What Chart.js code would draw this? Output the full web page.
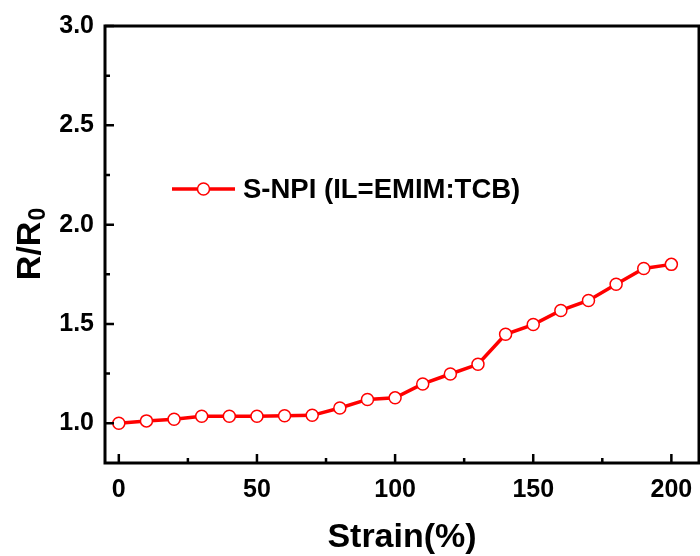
<!DOCTYPE html>
<html lang="en">
<head>
    <meta charset="UTF-8">
    <title>R/R0 vs Strain</title>
    <script src="https://cdn.jsdelivr.net/npm/chart.js"></script>
    <style>
        html, body { margin: 0; padding: 0; background: #fff; overflow: hidden; }
        #wrap { width: 700px; height: 556px; position: relative; }
    </style>
</head>
<body>
    <div id="wrap"><canvas id="chart"></canvas></div>

    <script>
        // data
        const strain = [0, 10, 20, 30, 40, 50, 60, 70, 80, 90, 100, 110, 120, 130, 140, 150, 160, 170, 180, 190, 200];
        const ratio = [1.00, 1.012, 1.02, 1.035, 1.035, 1.035, 1.038, 1.04, 1.077, 1.12, 1.128, 1.198, 1.248, 1.297, 1.448, 1.497, 1.568, 1.618, 1.70, 1.779, 1.80];
        const seriesLabel = 'S-NPI (IL=EMIM:TCB)';
        const xTicks = [0, 50, 100, 150, 200];
        const xMinor = [25, 75, 125, 175];
        const yTicks = [1.0, 1.5, 2.0, 2.5, 3.0];
        const yMinor = [1.25, 1.75, 2.25, 2.75];

        const FONT = '"Liberation Sans", Arial, sans-serif';
        const RED = '#ff0000';

        // frame, inward ticks, axis titles and legend
        const decor = {
            id: 'decor',
            afterDraw(chart) {
                const ctx = chart.ctx;
                const a = chart.chartArea;
                const xs = chart.scales.x, ys = chart.scales.y;
                ctx.save();
                ctx.strokeStyle = '#000';
                ctx.lineWidth = 3;
                ctx.strokeRect(a.left, a.top, a.right - a.left, a.bottom - a.top);

                ctx.lineWidth = 2.5;
                ctx.beginPath();
                xTicks.forEach(v => { const p = xs.getPixelForValue(v); ctx.moveTo(p, a.bottom); ctx.lineTo(p, a.bottom - 9); });
                xMinor.forEach(v => { const p = xs.getPixelForValue(v); ctx.moveTo(p, a.bottom); ctx.lineTo(p, a.bottom - 5); });
                yTicks.forEach(v => { const p = ys.getPixelForValue(v); ctx.moveTo(a.left, p); ctx.lineTo(a.left + 9, p); });
                yMinor.forEach(v => { const p = ys.getPixelForValue(v); ctx.moveTo(a.left, p); ctx.lineTo(a.left + 5, p); });
                ctx.stroke();

                // x title
                ctx.fillStyle = '#000';
                ctx.font = 'bold 34px ' + FONT;
                ctx.textAlign = 'center';
                ctx.textBaseline = 'alphabetic';
                ctx.fillText('Strain(%)', (a.left + a.right) / 2, 547);

                // y title with subscript
                ctx.save();
                ctx.translate(40, (a.top + a.bottom) / 2);
                ctx.rotate(-Math.PI / 2);
                ctx.font = 'bold 34px ' + FONT;
                const main = 'R/R';
                const wMain = ctx.measureText(main).width;
                ctx.font = 'bold 23px ' + FONT;
                const wSub = ctx.measureText('0').width;
                const x0 = -(wMain + wSub) / 2;
                ctx.textAlign = 'left';
                ctx.font = 'bold 34px ' + FONT;
                ctx.fillText(main, x0, 0);
                ctx.font = 'bold 23px ' + FONT;
                ctx.fillText('0', x0 + wMain + 1, 5);
                ctx.restore();

                // legend
                const ly = 189;
                ctx.strokeStyle = RED;
                ctx.lineWidth = 3.5;
                ctx.beginPath();
                ctx.moveTo(172, ly);
                ctx.lineTo(235, ly);
                ctx.stroke();
                ctx.beginPath();
                ctx.arc(203.5, ly, 6, 0, Math.PI * 2);
                ctx.fillStyle = '#fff';
                ctx.fill();
                ctx.lineWidth = 1.5;
                ctx.stroke();
                ctx.fillStyle = '#000';
                ctx.font = 'bold 27.5px ' + FONT;
                ctx.textAlign = 'left';
                ctx.textBaseline = 'middle';
                ctx.fillText(seriesLabel, 243, ly + 1);
                ctx.restore();
            }
        };

        new Chart(document.getElementById('chart'), {
            type: 'line',
            data: {
                datasets: [{
                    label: seriesLabel,
                    data: strain.map((s, i) => ({ x: s, y: ratio[i] })),
                    borderColor: RED,
                    borderWidth: 3.5,
                    pointRadius: 6,
                    pointBorderWidth: 1.5,
                    pointBackgroundColor: '#fff',
                    pointBorderColor: RED,
                    tension: 0
                }]
            },
            options: {
                responsive: true,
                maintainAspectRatio: false,
                animation: false,
                layout: { autoPadding: false, padding: { top: 26, right: 1, left: 0, bottom: 0 } },
                plugins: { legend: { display: false }, tooltip: { enabled: false } },
                scales: {
                    x: {
                        type: 'linear',
                        min: -5,
                        max: 210,
                        grid: { display: false },
                        border: { display: false },
                        afterBuildTicks: s => { s.ticks = xTicks.map(v => ({ value: v })); },
                        afterFit: s => { s.height = 93; s.paddingLeft = 0; s.paddingRight = 0; },
                        ticks: {
                            padding: 4,
                            color: '#000',
                            font: { family: FONT, size: 25, weight: 'bold' }
                        }
                    },
                    y: {
                        min: 0.8,
                        max: 3.0,
                        grid: { display: false },
                        border: { display: false },
                        afterBuildTicks: s => { s.ticks = yTicks.map(v => ({ value: v })); },
                        afterFit: s => { s.width = 105; s.paddingTop = 0; s.paddingBottom = 0; },
                        ticks: {
                            padding: 3,
                            color: '#000',
                            font: { family: FONT, size: 25, weight: 'bold' },
                            callback: v => v.toFixed(1)
                        }
                    }
                }
            },
            plugins: [decor]
        });
    </script>
</body>
</html>
